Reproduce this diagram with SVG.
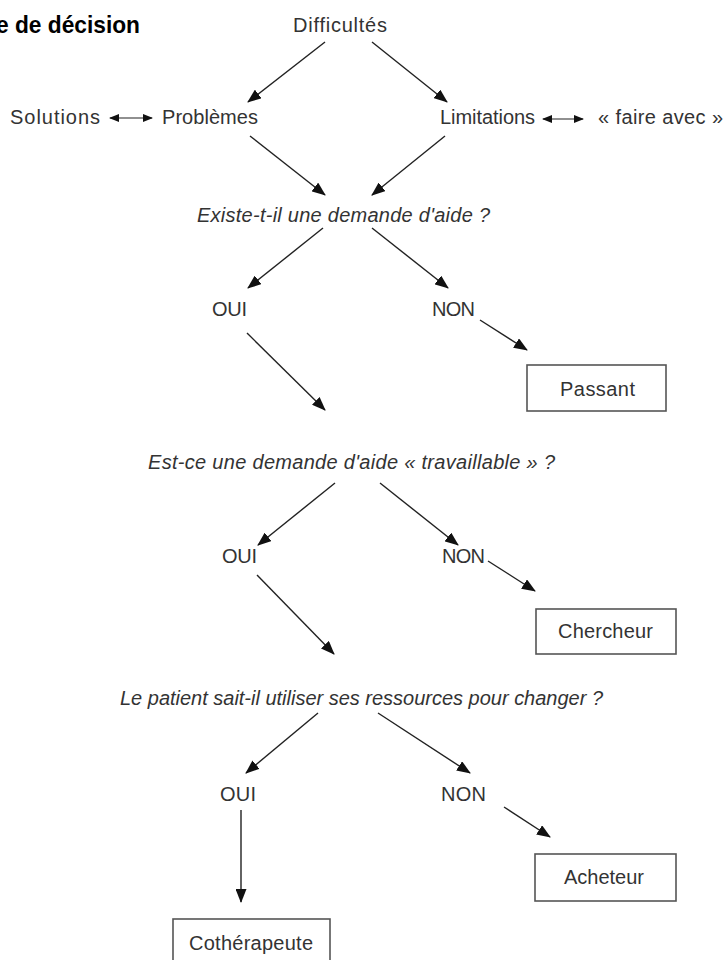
<svg xmlns="http://www.w3.org/2000/svg" width="726" height="960" viewBox="0 0 726 960">
<style>
.t{font-family:"Liberation Sans",Arial,sans-serif;font-size:20px;fill:#333}
.q{font-style:italic}
.title{font-family:"Liberation Sans",Arial,sans-serif;font-size:24px;font-weight:bold;fill:#000}
.box{fill:#fff;stroke:#555;stroke-width:1.6}
.c line{stroke:#222;stroke-width:1.4;marker-end:url(#ah)}
.c line.d{marker-start:url(#sh);marker-end:url(#sh);stroke-width:1.2}
</style>
<defs>
<marker id="ah" markerUnits="userSpaceOnUse" markerWidth="14" markerHeight="11" refX="13" refY="5.5" orient="auto"><path d="M0,0 L14,5.5 L0,11 z" fill="#111"/></marker>
<marker id="sh" markerUnits="userSpaceOnUse" markerWidth="10" markerHeight="8" refX="9" refY="4" orient="auto-start-reverse"><path d="M0,0 L10,4 L0,8 z" fill="#111"/></marker>
</defs>
<rect width="726" height="960" fill="#fff"/>
<text class="title" x="-4" y="33" textLength="144" lengthAdjust="spacingAndGlyphs">e de décision</text>

<g id="difficultes"><text class="t" x="293" y="32" textLength="94">Difficultés</text></g>
<g id="solutions"><text class="t" x="10" y="124" textLength="90">Solutions</text></g>
<g id="problemes"><text class="t" x="162" y="124" textLength="96">Problèmes</text></g>
<g id="limitations"><text class="t" x="440" y="124" textLength="95">Limitations</text></g>
<g id="faire-avec"><text class="t" x="598" y="124" textLength="125">« faire avec »</text></g>
<g id="q1"><text class="t q" x="197" y="222" textLength="293">Existe-t-il une demande d'aide ?</text></g>
<g id="oui1"><text class="t" x="212" y="316" textLength="35">OUI</text></g>
<g id="non1"><text class="t" x="432" y="316" textLength="43">NON</text></g>
<g id="passant"><rect class="box" x="527" y="365" width="139" height="46"/><text class="t" x="560" y="396" textLength="75">Passant</text></g>
<g id="q2"><text class="t q" x="148" y="469" textLength="407">Est-ce une demande d'aide « travaillable » ?</text></g>
<g id="oui2"><text class="t" x="222" y="563" textLength="35">OUI</text></g>
<g id="non2"><text class="t" x="442" y="563" textLength="43">NON</text></g>
<g id="chercheur"><rect class="box" x="536" y="609" width="140" height="45"/><text class="t" x="558" y="638" textLength="95">Chercheur</text></g>
<g id="q3"><text class="t q" x="120" y="705" textLength="483">Le patient sait-il utiliser ses ressources pour changer ?</text></g>
<g id="oui3"><text class="t" x="220" y="801" textLength="36">OUI</text></g>
<g id="non3"><text class="t" x="441" y="801" textLength="45">NON</text></g>
<g id="acheteur"><rect class="box" x="535" y="854" width="141" height="47"/><text class="t" x="564" y="884" textLength="80">Acheteur</text></g>
<g id="cotherapeute"><rect class="box" x="173" y="919" width="157" height="50"/><text class="t" x="189" y="950" textLength="124">Cothérapeute</text></g>

<g id="connectors" class="c">
<line x1="325" y1="42" x2="248" y2="102"/>
<line x1="372" y1="42" x2="447" y2="102"/>
<line class="d" x1="110" y1="118" x2="152" y2="118"/>
<line class="d" x1="543" y1="119" x2="583" y2="119"/>
<line x1="250" y1="136" x2="325" y2="195"/>
<line x1="445" y1="136" x2="372" y2="195"/>
<line x1="323" y1="228" x2="248" y2="288"/>
<line x1="372" y1="228" x2="448" y2="288"/>
<line x1="480" y1="320" x2="527" y2="350"/>
<line x1="247" y1="333" x2="325" y2="410"/>
<line x1="335" y1="483" x2="258" y2="545"/>
<line x1="380" y1="483" x2="458" y2="545"/>
<line x1="488" y1="561" x2="535" y2="591"/>
<line x1="257" y1="575" x2="334" y2="654"/>
<line x1="318" y1="713" x2="246" y2="773"/>
<line x1="378" y1="713" x2="470" y2="773"/>
<line x1="504" y1="807" x2="550" y2="837"/>
<line x1="241" y1="810" x2="241" y2="902"/>
</g>
</svg>
